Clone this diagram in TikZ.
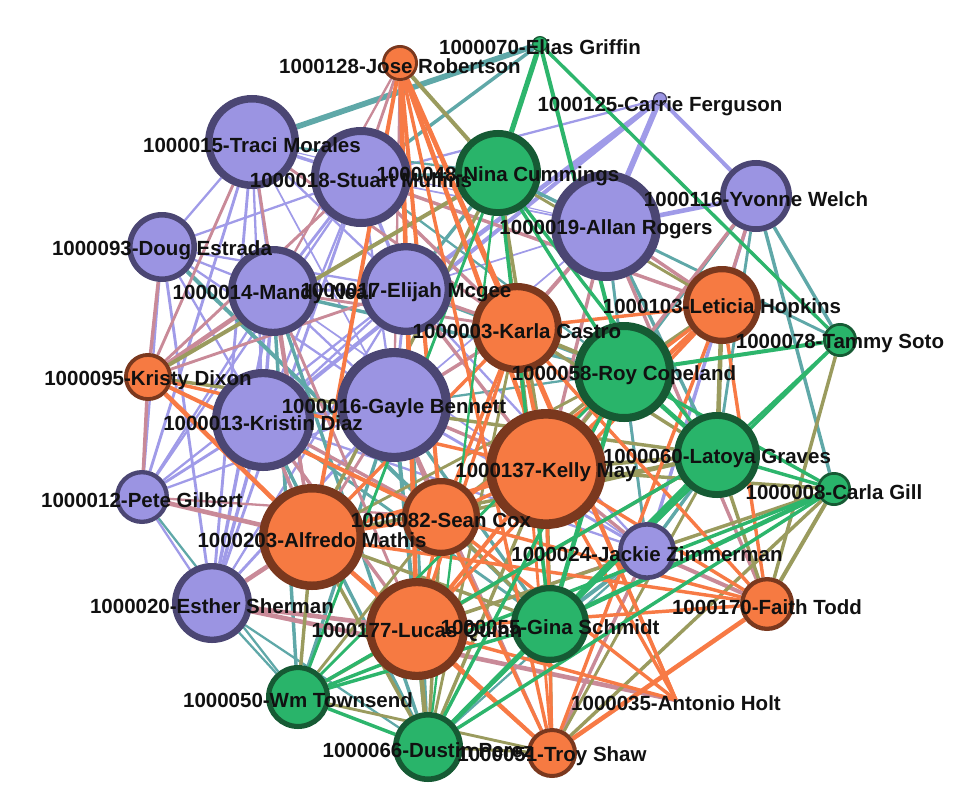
\documentclass[tikz,border=0pt]{standalone}
\usepackage{fontspec}
\setmainfont{Liberation Sans}
\pgfdeclarelayer{edges}
\pgfsetlayers{edges,main}
\definecolor{pfill}{HTML}{9B94E2}
\definecolor{pdraw}{HTML}{4B4673}
\definecolor{ofill}{HTML}{F67A42}
\definecolor{odraw}{HTML}{7A381E}
\definecolor{gfill}{HTML}{29B46A}
\definecolor{gdraw}{HTML}{165A34}
\definecolor{epp}{HTML}{A09BE8}
\definecolor{eoo}{HTML}{F77A45}
\definecolor{egg}{HTML}{2DB56C}
\definecolor{epg}{HTML}{5FA8A8}
\definecolor{eog}{HTML}{9A9B5E}
\definecolor{epo}{HTML}{C98A98}
\definecolor{lbltext}{HTML}{111111}
\tikzset{
  P/.style={circle,fill=pfill,draw=pdraw,inner sep=0pt},
  O/.style={circle,fill=ofill,draw=odraw,inner sep=0pt},
  G/.style={circle,fill=gfill,draw=gdraw,inner sep=0pt},
  lbl/.style={inner sep=0pt,text=lbltext,font=\fontsize{20.5}{24}\selectfont\bfseries},
  pp/.style={draw=epp},
  oo/.style={draw=eoo},
  gg/.style={draw=egg},
  pg/.style={draw=epg},
  og/.style={draw=eog},
  po/.style={draw=epo}
}
\newcommand{\gnode}[5]{\node[#5,minimum size={1.84*#4},line width={0.16*#4}] (#1) at (#2,#3) {};}
\newcommand{\glabel}[4]{\node[lbl] (#1) at (#2,#3+3) {#4};}
\begin{document}
\begin{tikzpicture}[x=1pt,y=-1pt]
\useasboundingbox (0,0) rectangle (971,806);
% nodes
\gnode{n128}{400}{63}{18}{O}
\gnode{n70}{540}{44}{8}{G}
\gnode{n125}{660}{99}{7}{P}
\gnode{n15}{252}{142}{47}{P}
\gnode{n18}{361}{177}{50}{P}
\gnode{n48}{498}{173}{43}{G}
\gnode{n19}{606}{226}{55}{P}
\gnode{n116}{756}{196}{36}{P}
\gnode{n93}{162}{247}{35}{P}
\gnode{n14}{273}{291}{45}{P}
\gnode{n17}{406}{289}{46}{P}
\gnode{n3}{517}{328}{45}{O}
\gnode{n103}{722}{305}{39}{O}
\gnode{n78}{840}{340}{17}{G}
\gnode{n95}{148}{377}{24}{O}
\gnode{n58}{624}{372}{50}{G}
\gnode{n13}{263}{420}{51}{P}
\gnode{n16}{394}{405}{57}{P}
\gnode{n137}{546}{469}{60}{O}
\gnode{n60}{717}{455}{43}{G}
\gnode{n8}{834}{489}{17}{G}
\gnode{n12}{142}{497}{27}{P}
\gnode{n82}{441}{517}{39}{O}
\gnode{n203}{312}{537}{53}{O}
\gnode{n24}{647}{551}{29}{P}
\gnode{n20}{212}{603}{40}{P}
\gnode{n170}{767}{604}{27}{O}
\gnode{n177}{417}{629}{51}{O}
\gnode{n55}{550}{624}{39}{G}
\gnode{n50}{298}{697}{32}{G}
\coordinate (n35) at (676,700);
\gnode{n66}{428}{747}{35}{G}
\gnode{n51}{552}{753}{25}{O}
% edges
\begin{pgfonlayer}{edges}
\foreach \a/\b/\w in {n15/n18/3,n15/n93/2,n15/n14/2.5,n15/n17/2,n15/n13/2,n15/n16/1.5,n15/n12/2.5,n15/n20/2.5,n15/n19/1,
 n18/n93/2,n18/n14/2.5,n18/n17/3,n18/n13/2,n18/n16/2,n18/n12/2,n18/n20/2.5,n18/n19/1.5,
 n93/n14/2,n93/n17/2,n93/n13/2,n93/n16/2,n93/n12/2,n93/n20/2.5,
 n14/n17/2.5,n14/n13/3,n14/n16/2,n14/n12/2,n14/n20/3,
 n17/n16/2.5,n17/n13/2,n17/n12/2,n17/n20/2,n17/n19/1.5,
 n13/n16/3,n13/n12/2.5,n13/n20/3,n16/n12/2,n16/n20/2.5,n16/n24/2.5,n16/n19/1.5,
 n19/n116/4,n19/n125/5,n116/n125/3.5,n116/n24/3,n125/n17/4,n125/n13/3.5,n125/n18/2,
 n19/n24/2,n17/n24/2,n13/n24/2,n14/n24/1.5,n12/n20/2}
 \draw[pp,line width=1.15*\w] (\a) -- (\b);
\foreach \a/\b/\w in {n70/n15/5,n70/n18/3,n116/n78/3,n116/n8/3,n116/n58/3,n116/n60/2.5,n12/n50/2,n20/n50/2,
 n93/n55/3.5,n14/n66/3,n14/n50/3,n16/n50/3,n13/n66/3,n16/n66/3.5,n14/n58/3,n18/n48/3,n15/n48/2,n17/n48/3,
 n17/n58/2.5,n19/n48/3,n19/n58/2.5,n19/n60/3,n24/n60/3,n24/n58/2.5,n24/n55/3.5,n16/n55/3,n13/n55/2.5,
 n20/n66/2,n17/n66/2.5,n18/n58/2,n19/n78/2.5,n24/n66/2,n16/n58/2}
 \draw[pg,line width=1.15*\w] (\a) -- (\b);
\foreach \a/\b/\w in {n128/n18/2.5,n128/n14/2,n128/n16/2,n93/n95/3,n95/n12/3,n95/n14/4,n95/n18/2.5,n95/n15/2.5,n95/n17/2.5,
 n17/n3/3,n16/n3/3,n16/n137/3,n18/n3/3,n15/n3/2.5,n14/n3/2.5,n19/n3/3.5,n19/n103/3,n19/n137/3,n116/n103/3,n116/n137/3,
 n12/n203/4,n20/n203/4,n20/n35/4,n13/n203/3,n13/n82/3,n13/n177/3,n16/n82/3,n16/n203/2.5,n14/n203/3,
 n24/n170/3.5,n24/n137/3,n24/n51/3,n24/n177/2.5,n19/n170/3,n17/n137/3,n18/n103/3,n15/n203/2.5,n17/n177/2.5,
 n16/n51/2.5,n14/n177/2.5,n12/n82/2,n20/n177/4}
 \draw[po,line width=1.15*\w] (\a) -- (\b);
\foreach \a/\b/\w in {n128/n48/3.5,n95/n48/3.5,n95/n60/3,n3/n48/3,n3/n58/3.5,n3/n60/3,n3/n55/3,n103/n58/3,n103/n60/4,n103/n48/2.5,
 n137/n58/3,n137/n60/3.5,n137/n55/3.5,n137/n8/3,n137/n66/3,n137/n48/3,n203/n55/3,n203/n66/3,n203/n50/3,n203/n60/3,n203/n48/3,n203/n58/2.5,
 n177/n66/4,n177/n50/3,n177/n60/3,n177/n8/3,n82/n60/3,n82/n58/3,n82/n55/3,n82/n66/3,n82/n50/2.5,
 n170/n8/3.5,n170/n60/3,n78/n170/3,n51/n8/3,n51/n66/2.5,n51/n60/2.5,n51/n55/2.5,n50/n51/2.5,n3/n66/2.5}
 \draw[og,line width=1.15*\w] (\a) -- (\b);
\foreach \a/\b/\w in {n128/n3/4,n128/n137/4,n128/n82/3.5,n128/n203/3.5,n128/n177/4,n128/n51/3,n128/n35/3,
 n95/n203/4,n95/n82/3.5,n95/n137/3,n3/n137/3.5,n3/n103/3,n3/n82/3,n3/n203/3,n3/n177/3,n3/n170/3,n3/n51/2.5,
 n103/n137/4,n103/n82/3,n103/n170/3,n103/n51/3,n103/n177/3,n137/n82/3,n137/n203/3.5,n137/n177/3.5,n137/n170/3,
 n137/n51/3,n137/n35/3,n82/n203/3,n82/n177/3,n82/n170/3,n82/n51/3,n82/n35/3,n203/n177/3.5,n203/n170/3,n203/n51/3,
 n177/n51/3.5,n177/n170/3,n177/n35/3,n170/n51/4,n3/n35/3}
 \draw[oo,line width=1.15*\w] (\a) -- (\b);
\foreach \a/\b/\w in {n70/n48/4.5,n70/n58/3.5,n70/n78/3,n48/n58/3,n48/n60/3,n48/n55/3,n58/n78/3.5,n58/n60/4,n58/n8/3,
 n58/n55/4,n58/n66/3,n78/n60/2.5,n78/n66/3,n60/n8/3,n60/n55/4.5,n60/n66/3,n60/n50/3,n8/n55/4,n8/n66/3,n8/n50/3,
 n55/n66/4,n55/n50/3,n50/n66/3,n48/n66/2,n48/n50/2.5,n58/n50/2.5}
 \draw[gg,line width=1.15*\w] (\a) -- (\b);
\end{pgfonlayer}
% labels
\glabel{l128}{400}{63}{1000128-Jose Robertson}
\glabel{l70}{540}{44}{1000070-Elias Griffin}
\glabel{l125}{660}{103}{1000125-Carrie Ferguson}
\glabel{l15}{252}{142}{1000015-Traci Morales}
\glabel{l18}{361}{177}{1000018-Stuart Mullins}
\glabel{l48}{498}{173}{1000048-Nina Cummings}
\glabel{l19}{606}{226}{1000019-Allan Rogers}
\glabel{l116}{756}{196}{1000116-Yvonne Welch}
\glabel{l93}{162}{247}{1000093-Doug Estrada}
\glabel{l14}{273}{291}{1000014-Mandy Neal}
\glabel{l17}{406}{289}{1000017-Elijah Mcgee}
\glabel{l3}{517}{328}{1000003-Karla Castro}
\glabel{l103}{722}{305}{1000103-Leticia Hopkins}
\glabel{l78}{840}{340}{1000078-Tammy Soto}
\glabel{l95}{148}{377}{1000095-Kristy Dixon}
\glabel{l58}{624}{372}{1000058-Roy Copeland}
\glabel{l13}{263}{420}{1000013-Kristin Diaz}
\glabel{l16}{394}{405}{1000016-Gayle Bennett}
\glabel{l137}{546}{469}{1000137-Kelly May}
\glabel{l60}{717}{455}{1000060-Latoya Graves}
\glabel{l8}{834}{489}{1000008-Carla Gill}
\glabel{l12}{142}{497}{1000012-Pete Gilbert}
\glabel{l82}{441}{517}{1000082-Sean Cox}
\glabel{l203}{312}{537}{1000203-Alfredo Mathis}
\glabel{l24}{647}{551}{1000024-Jackie Zimmerman}
\glabel{l20}{212}{603}{1000020-Esther Sherman}
\glabel{l170}{767}{604}{1000170-Faith Todd}
\glabel{l177}{417}{629}{1000177-Lucas Quinn}
\glabel{l55}{550}{624}{1000055-Gina Schmidt}
\glabel{l50}{298}{697}{1000050-Wm Townsend}
\glabel{l35}{676}{700}{1000035-Antonio Holt}
\glabel{l66}{428}{747}{1000066-Dustin Perez}
\glabel{l51}{552}{753}{1000051-Troy Shaw}
\end{tikzpicture}
\end{document}
